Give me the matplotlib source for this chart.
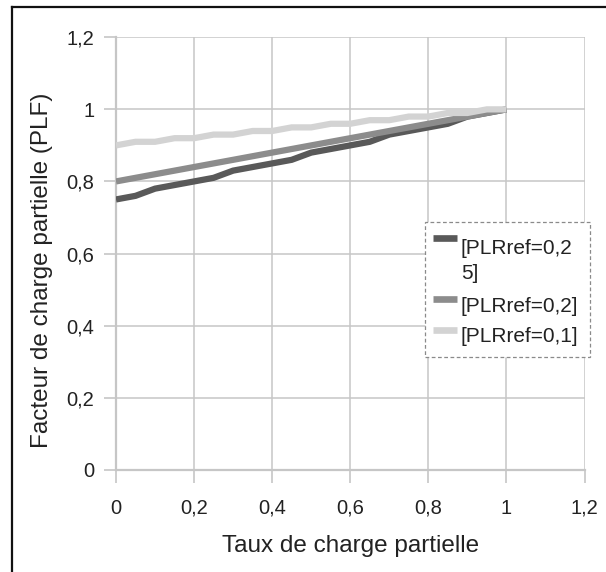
import matplotlib
matplotlib.use("Agg")
import matplotlib.pyplot as plt
from matplotlib.lines import Line2D
from matplotlib.patches import Rectangle

plt.rcParams['font.family'] = ['Liberation Sans', 'DejaVu Sans']

x_vals = [0.00, 0.05, 0.10, 0.15, 0.20, 0.25, 0.30, 0.35, 0.40, 0.45, 0.50,
          0.55, 0.60, 0.65, 0.70, 0.75, 0.80, 0.85, 0.90, 0.95, 1.00]
plf_025 = [0.75, 0.76, 0.78, 0.79, 0.80, 0.81, 0.83, 0.84, 0.85, 0.86, 0.88,
           0.89, 0.90, 0.91, 0.93, 0.94, 0.95, 0.96, 0.98, 0.99, 1.00]
plf_02 = [0.80, 0.81, 0.82, 0.83, 0.84, 0.85, 0.86, 0.87, 0.88, 0.89, 0.90,
          0.91, 0.92, 0.93, 0.94, 0.95, 0.96, 0.97, 0.98, 0.99, 1.00]
plf_01 = [0.90, 0.91, 0.91, 0.92, 0.92, 0.93, 0.93, 0.94, 0.94, 0.95, 0.95,
          0.96, 0.96, 0.97, 0.97, 0.98, 0.98, 0.99, 0.99, 1.00, 1.00]
labels = ["[PLRref=0,2\n5]", "[PLRref=0,2]", "[PLRref=0,1]"]
colors = ["#595959", "#8c8c8c", "#d3d3d3"]
x_ticks = [0, 0.2, 0.4, 0.6, 0.8, 1.0, 1.2]
x_tick_labels = ["0", "0,2", "0,4", "0,6", "0,8", "1", "1,2"]
y_ticks = [0, 0.2, 0.4, 0.6, 0.8, 1.0, 1.2]
y_tick_labels = ["0", "0,2", "0,4", "0,6", "0,8", "1", "1,2"]

W, H = 606, 572
fig = plt.figure(figsize=(W / 100, H / 100), dpi=100)
ax = fig.add_axes([116 / W, 1 - 469.7 / H, (584.5 - 116) / W, (469.7 - 37.3) / H])

grid_c = "#c6c6c6"
text_c = "#222222"
series = [plf_025, plf_02, plf_01]
for s, lab, col in zip(series, labels, colors):
    ax.plot(x_vals, s, color=col, lw=4.5, label=lab, solid_capstyle='butt',
            solid_joinstyle='miter', zorder=3)

ax.set_xlim(0, 1.2)
ax.set_ylim(0, 1.2)
ax.set_xticks(x_ticks)
ax.set_xticklabels(x_tick_labels)
ax.set_yticks(y_ticks)
ax.set_yticklabels(y_tick_labels)
ax.grid(True, color=grid_c, lw=1.1, zorder=0)
for sp in ['top', 'right']:
    ax.spines[sp].set_visible(False)
for sp in ['left', 'bottom']:
    ax.spines[sp].set_color(grid_c)
    ax.spines[sp].set_linewidth(1.6)
ax.tick_params(axis='both', colors=grid_c, length=9, width=1.2,
               labelcolor=text_c, labelsize=14.5)
ax.tick_params(axis='x', pad=12)
ax.tick_params(axis='y', pad=6.5)

ax.set_xlabel("Taux de charge partielle", fontsize=17.5, color=text_c, labelpad=12)
ax.set_ylabel("Facteur de charge partielle (PLF)", fontsize=17.5, color=text_c, labelpad=9.5)
ax.yaxis.label.set_y(0.46)

# legend drawn in figure pixel coordinates (Excel-style, dashed frame)
def fx(px):
    return px / W

def fy(py):
    return 1 - py / H

fig.add_artist(Rectangle((fx(425), fy(357)), fx(590) - fx(425), fy(222) - fy(357),
                         transform=fig.transFigure, fill=True, facecolor='white',
                         edgecolor='#8a8a8a', lw=0.9, linestyle=(0, (3, 2)), zorder=5))
handle_y = [238.3, 298.8, 330.3]
text_base = [254.3, 311.7, 341.7]
for lab, col, hy, tb in zip(labels, colors, handle_y, text_base):
    fig.add_artist(Line2D([fx(433), fx(457)], [fy(hy), fy(hy)], transform=fig.transFigure,
                          color=col, lw=4.8, solid_capstyle='butt', zorder=6))
    lines = lab.split("\n")
    for i, ln in enumerate(lines):
        fig.text(fx(461), fy(tb + i * 25), ln, fontsize=15, color=text_c,
                 ha='left', va='baseline', zorder=7)

fig.add_artist(Line2D([fx(12), fx(12)], [0, fy(7)], transform=fig.transFigure,
                      color='#111111', lw=1.6))
fig.add_artist(Line2D([fx(12), 1], [fy(7), fy(7)], transform=fig.transFigure,
                      color='#111111', lw=1.6))

fig.savefig("out.png", dpi=100)
